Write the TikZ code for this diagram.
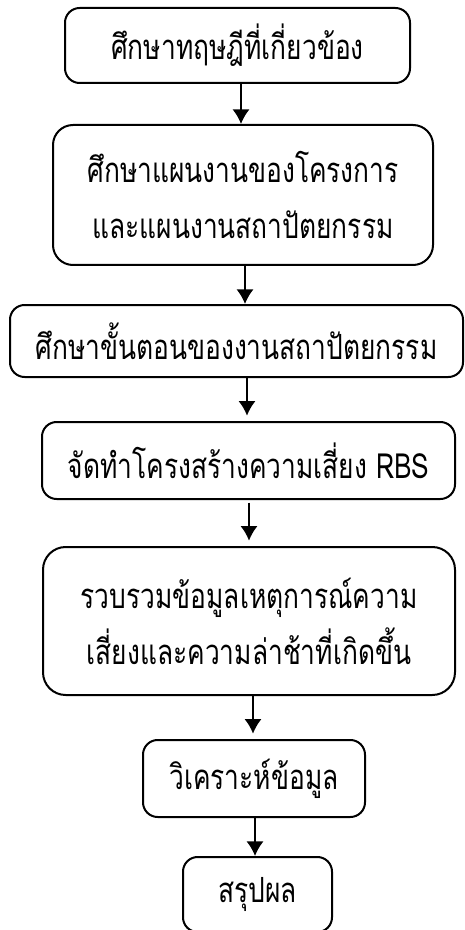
\documentclass[tikz,border=0pt]{standalone}
\usepackage{fontspec}
\usetikzlibrary{arrows.meta}
\newfontfamily\thaifont[Script=Thai,FakeStretch=0.76]{Loma}
\begin{document}
\begin{tikzpicture}[x=0.75pt,y=-0.75pt,
  box/.style={draw=black,line width=1.5pt,rounded corners=11pt,inner sep=0pt,align=center,
    font=\thaifont\fontsize{26}{42}\selectfont},
  arr/.style={line width=1.5pt,-{Latex[length=11pt,width=13pt]}}]
\useasboundingbox (0,0) rectangle (464,930);
\node[box,minimum width=345*0.75pt,minimum height=75*0.75pt] (b1) at (237.5,45.5) {ศึกษาทฤษฎีที่เกี่ยวข้อง};
\node[box,minimum width=380*0.75pt,minimum height=140*0.75pt,rounded corners=15pt] (b2) at (243,195) {ศึกษาแผนงานของโครงการ\\และแผนงานสถาปัตยกรรม};
\node[box,minimum width=453*0.75pt,minimum height=72*0.75pt] (b3) at (236.5,341) {ศึกษาขั้นตอนของงานสถาปัตยกรรม};
\node[box,minimum width=413*0.75pt,minimum height=77*0.75pt] (b4) at (248.5,460.5) {จัดทำโครงสร้างความเสี่ยง RBS};
\node[box,minimum width=412*0.75pt,minimum height=148*0.75pt,rounded corners=17pt] (b5) at (249,621) {รวบรวมข้อมูลเหตุการณ์ความ\\เสี่ยงและความล่าช้าที่เกิดขึ้น};
\node[box,minimum width=222*0.75pt,minimum height=77*0.75pt] (b6) at (254,778.5) {วิเคราะห์ข้อมูล};
\node[box,minimum width=149*0.75pt,minimum height=75*0.75pt] (b7) at (257.5,894.5) {สรุปผล};
\coordinate (c1) at (241,0);
\coordinate (c2) at (245,0);
\coordinate (c3) at (247,0);
\coordinate (c4) at (249,0);
\coordinate (c5) at (253,0);
\coordinate (c6) at (255,0);
\draw[arr] (b1.south -| c1) -- (b2.north -| c1);
\draw[arr] (b2.south -| c2) -- (b3.north -| c2);
\draw[arr] (b3.south -| c3) -- ([yshift=4pt]b4.north -| c3);
\draw[arr] ([yshift=-2pt]b4.south -| c4) -- ([yshift=4pt]b5.north -| c4);
\draw[arr] (b5.south -| c5) -- ([yshift=4pt]b6.north -| c5);
\draw[arr] (b6.south -| c6) -- (b7.north -| c6);
\end{tikzpicture}
\end{document}
